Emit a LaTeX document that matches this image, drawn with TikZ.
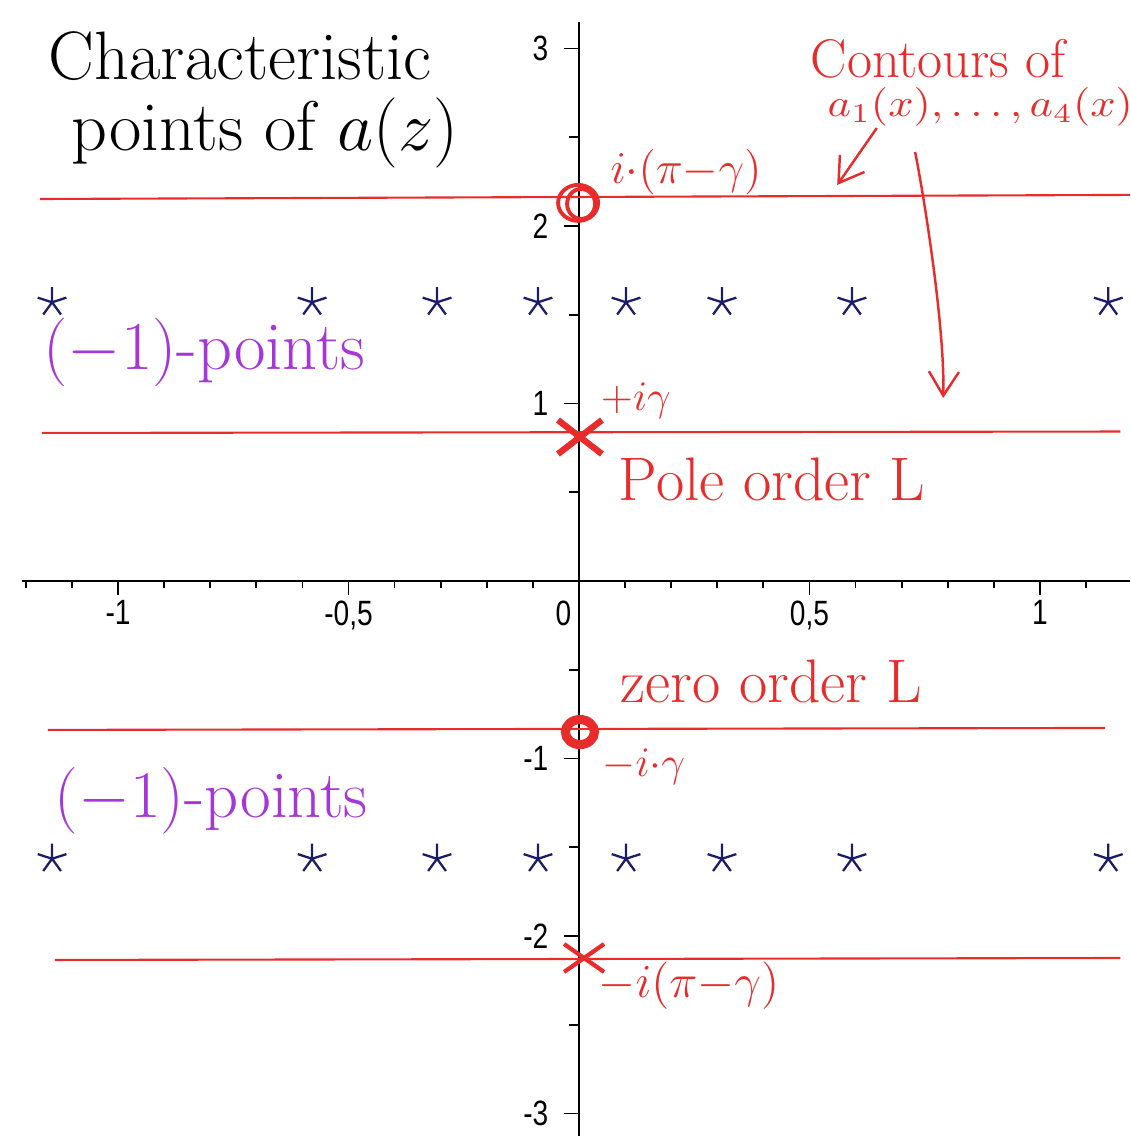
\RequirePackage{fix-cm}
\documentclass[tikz,border=0pt]{standalone}
\usepackage{amsmath,amssymb}
\usepackage{graphicx}
\usepackage{fontspec}
\newfontfamily\ticksfont{Liberation Sans}
\usetikzlibrary{arrows.meta,plotmarks}
\definecolor{penred}{RGB}{232,44,44}
\definecolor{penviolet}{RGB}{165,55,215}
\definecolor{starblue}{RGB}{28,28,105}

\begin{document}
\begin{tikzpicture}[x=4.61cm, y=1.775cm, every node/.style={inner sep=0pt}, >={Straight Barb[length=2.4mm, width=3mm]},
  tick/.style={font=\ticksfont\fontsize{10}{12}\selectfont},
  hand/.style={anchor=base west},
  contour/.style={penred, line width=0.6pt}]
	\useasboundingbox (-1.256,-3.1268) rectangle (1.1952,3.2732);
	% axes and ticks
	\draw[line width=0.6pt] (-1.208,0) -- (1.1952,0);
	\draw[line width=0.6pt] (0,-3.1268) -- (0,3.149);
	\foreach \t in {-1.2,-1.1,...,1.15} \draw[line width=0.5pt] (\t,0) -- ++(0pt,-2pt);
	\foreach \t in {-1,-0.5,0.5,1} \draw[line width=0.5pt] (\t,0) -- ++(0pt,-4pt);
	\foreach \t in {-2.5,-1.5,-0.5,0.5,1.5,2.5} \draw[line width=0.5pt] (0,\t) -- ++(-2.8pt,0pt);
	\foreach \t in {-3,-2,-1,1,2,3} \draw[line width=0.5pt] (0,\t) -- ++(-4.3pt,0pt);
	\foreach \v/\l [count=\i] in {-1/-1, -0.5/{-0,5}, 0.5/{0,5}, 1/1}
		\node[tick, anchor=north, yshift=-0.19cm] (xlab\i) at (\v,0) {\scalebox{0.8}[1]{\l}};
	\node[tick, anchor=north east, xshift=-0.07cm, yshift=-0.19cm] (xlab0) at (0,0) {\scalebox{0.8}[1]{0}};
	\foreach \v [count=\i] in {-3,-2,-1,1,2,3}
		\node[tick, anchor=east] (ylab\i) at (-0.065,\v) {\scalebox{0.8}[1]{\v}};
	% (-1)-points
	\foreach \sx in {-1.143,-0.579,-0.308,-0.089,0.102,0.310,0.592,1.148}
		\foreach \sy in {1.57,-1.565}
			\draw[starblue, line width=0.65pt] plot[mark=star, mark size=4.3pt] coordinates {(\sx,\sy)};
	% contours
	\draw[contour] (-1.169,2.152) -- (1.1952,2.175);
	\draw[contour] (-1.165,0.834) -- (1.174,0.842);
	\draw[contour] (-1.152,-0.839) -- (1.141,-0.828);
	\draw[contour] (-1.137,-2.135) -- (1.174,-2.124);
	% zeros and poles
	\coordinate (ztop) at (-0.002,2.130);
	\draw[penred, line width=1.1pt] (ztop) ellipse [x radius=0.2cm, y radius=0.18cm];
	\draw[penred, line width=1.1pt] ([shift={(0.03cm,-0.01cm)}]ztop) ellipse [x radius=0.14cm, y radius=0.15cm];
	\coordinate (pole) at (0.002,0.811);
	\draw[penred, line width=1.8pt] (pole) +(-0.22cm,0.17cm) -- +(0.22cm,-0.17cm) (pole) +(0.22cm,0.17cm) -- +(-0.22cm,-0.17cm);
	\coordinate (zlow) at (0.002,-0.851);
	\draw[penred, line width=2.6pt] (zlow) ellipse [x radius=0.145cm, y radius=0.125cm];
	\coordinate (polelow) at (0.011,-2.124);
	\draw[penred, line width=1.2pt] (polelow) +(-0.2cm,0.14cm) -- +(0.2cm,-0.14cm) (polelow) +(0.2cm,0.14cm) -- +(-0.2cm,-0.14cm);
	% labels
	\node[hand, font=\fontsize{19.5}{22}\selectfont] (title1) at (-1.152,2.825) {Characteristic};
	\node[hand, font=\fontsize{20}{22}\selectfont] (title2) at (-1.102,2.425) {points of $a(z)$};
	\node[hand, penred, font=\fontsize{15.5}{18}\selectfont] (cont1) at (0.501,2.834) {Contours of};
	\node[hand, penred, font=\fontsize{11}{13}\selectfont] (cont2) at (0.538,2.615) {\scalebox{1.15}[1]{$a_1(x),\ldots,a_4(x)$}};
	\node[hand, penred, font=\fontsize{13}{16}\selectfont] (ipg) at (0.067,2.242) {$i{\cdot}(\pi{-}\gamma)$};
	\node[hand, penred, font=\fontsize{12}{14}\selectfont] (pig) at (0.046,0.963) {$+i\gamma$};
	\node[hand, penred, font=\fontsize{17.5}{20}\selectfont] (polelab) at (0.085,0.456) {Pole order L};
	\node[hand, penred, font=\fontsize{17.5}{20}\selectfont] (zerolab) at (0.089,-0.687) {zero order L};
	\node[hand, penred, font=\fontsize{12}{14}\selectfont] (mig) at (0.050,-1.104) {$-i{\cdot}\gamma$};
	\node[hand, penred, font=\fontsize{13.5}{16}\selectfont] (mipg) at (0.041,-2.349) {$-i(\pi{-}\gamma)$};
	\node[hand, penviolet, font=\fontsize{19.5}{22}\selectfont] (pts1) at (-1.163,1.189) {($-$1)-points};
	\node[hand, penviolet, font=\fontsize{19}{22}\selectfont] (pts2) at (-1.139,-1.330) {($-$1)-points};
	% arrows to the contours
	\coordinate (arrA) at (0.646,2.552);
	\coordinate (arrAend) at (0.560,2.231);
	\draw[penred, line width=0.7pt, ->] (arrA) -- (arrAend);
	\coordinate (arrB) at (0.729,2.417);
	\coordinate (arrBend) at (0.790,1.031);
	\draw[penred, line width=0.7pt, ->] (arrB) .. controls (0.750,2.146) and (0.794,1.414) .. (arrBend);
\end{tikzpicture}
\end{document}
